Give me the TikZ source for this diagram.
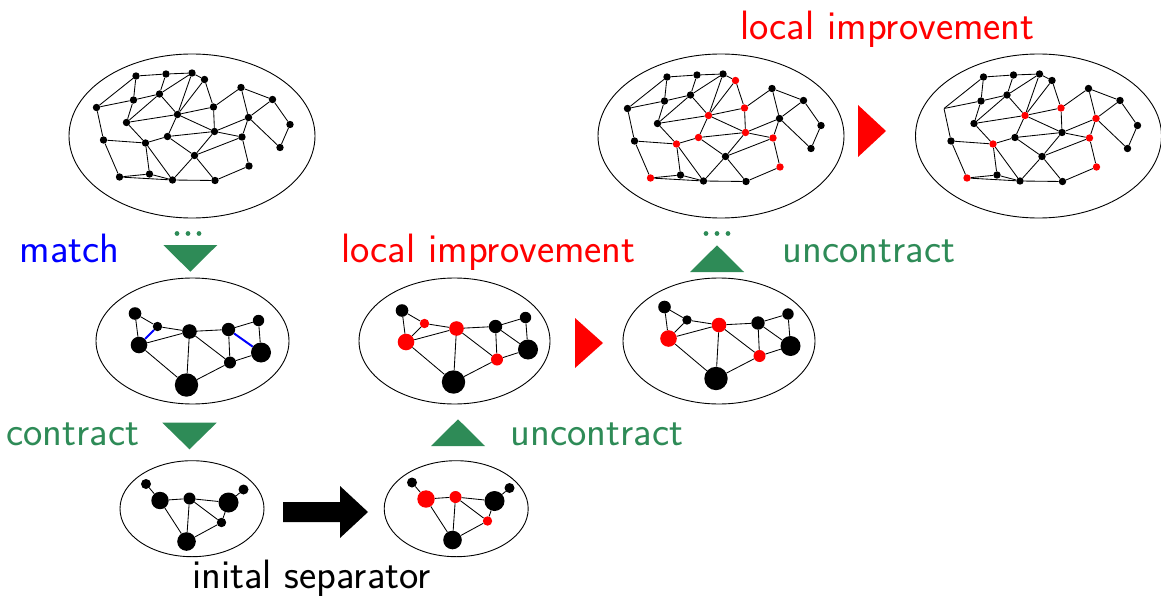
\documentclass[tikz,border=0pt]{standalone}
\usetikzlibrary{shapes.geometric}

\definecolor{sgreen}{RGB}{46,139,87}

% big graph: n / x / y / style after projection / style after refinement
\newcommand\bigverts{%
  1/136/76/blk/blk, 2/166/74/blk/blk, 3/192/73/blk/blk, 4/204.5/79.5/hot/blk,
  5/96.5/107.5/blk/gone, 6/133.5/100/blk/blk, 7/159.5/94/blk/blk,
  8/177.5/114.5/hot/hot, 9/213.5/107/hot/hot, 10/241/87.5/blk/blk,
  11/272.5/99.5/blk/blk, 12/290/124.5/blk/blk, 13/126.5/122.5/blk/blk,
  14/248.5/117.5/blk/hot, 15/103.5/140/blk/blk, 16/145.5/143/hot/hot,
  17/167.5/136.5/hot/blk, 18/214.5/131.5/hot/blk, 19/242/137/hot/hot,
  20/280/147.5/blk/blk, 21/194.5/155.5/blk/blk, 22/249/166/hot/hot,
  23/119.5/177/hot/hot, 24/149.5/174/blk/blk, 25/172.5/180/blk/blk,
  26/215/180.5/blk/blk}
\newcommand\bigedges{%
  1/2, 2/3, 3/4, 1/5, 1/6, 2/7, 3/7, 3/8, 4/8, 4/9, 5/6, 6/7, 6/13, 7/13,
  7/8, 5/15, 13/8, 8/9, 8/17, 8/18, 9/18, 9/10, 10/14, 10/11, 11/14, 11/12,
  12/20, 14/20, 14/18, 14/19, 13/16, 15/16, 16/17, 17/18, 18/19, 18/21,
  19/21, 17/21, 19/22, 22/26, 21/25, 21/26, 15/23, 16/24, 16/25, 23/24,
  23/25, 24/25, 25/26}

\begin{document}
\begin{tikzpicture}[
    x=1pt, y=-1pt,
    blob/.style = {
        ellipse,
        draw,
        line width=0.9pt,
        inner sep=0pt
    },
    dot/.style = {
        circle,
        fill=black,
        inner sep=0pt,
        minimum size=7.4pt
    },
    blk/.style  = {fill=black},
    hot/.style  = {fill=red},
    gone/.style = {fill=none, minimum size=0pt},
    link/.style = {line width=0.85pt},
    matched/.style = {line width=2pt, blue},
    lbl/.style = {anchor=base, font=\sffamily\fontsize{41}{46}\selectfont}
]
\useasboundingbox (0,0) rectangle (1161,596);

%% ── Ellipses ───────────────────────────────────────────────────────────────

\node[blob, minimum width=246pt, minimum height=164pt] (fine)  at (192,136)   {};
\node[blob, minimum width=246pt, minimum height=164pt] (proj)  at (721,136)   {};
\node[blob, minimum width=246pt, minimum height=164pt] (final) at (1038.5,136) {};

\node[blob, minimum width=193pt, minimum height=126pt] (coarse)  at (192.5,341) {};
\node[blob, minimum width=191pt, minimum height=126pt] (cproj)   at (454.5,341) {};
\node[blob, minimum width=192pt, minimum height=126pt] (cimpr)   at (719,341)   {};

\node[blob, minimum width=144pt, minimum height=96pt] (tiny)  at (192,508.7)   {};
\node[blob, minimum width=144pt, minimum height=96pt] (tsep)  at (456.2,508.7) {};

%% ── Big graphs ─────────────────────────────────────────────────────────────

\foreach \n/\x/\y/\cb/\cc in \bigverts {
    \node[dot]      (g\n) at (\x,\y)           {};
    \node[dot, \cb] (p\n) at (\x+531,\y+1)     {};
    \node[dot, \cc] (r\n) at (\x+847.5,\y+1)   {};
}
\foreach \u/\v in \bigedges {
    \draw[link] (g\u) -- (g\v);
    \draw[link] (p\u) -- (p\v);
    \draw[link] (r\u) -- (r\v);
}

%% ── Middle graphs ──────────────────────────────────────────────────────────

\foreach \n/\x/\y/\r/\cb/\cc in {
    1/135/313.5/6.3/blk/blk, 2/157.5/326.5/4.7/hot/blk,
    3/139/345/8.3/hot/hot,   4/189.5/331.5/7.3/hot/hot,
    5/228.5/329.5/6.7/blk/blk, 6/258.5/320.5/5.7/blk/blk,
    7/261/352.5/10/blk/blk,  8/230/362.5/6/hot/hot,
    9/186.5/385/11.7/blk/blk} {
    \node[dot, minimum size=2*\r pt]      (m\n) at (\x,\y)            {};
    \node[dot, minimum size=2*\r pt, \cb] (n\n) at (\x+267,\y-3)      {};
    \node[dot, minimum size=2*\r pt, \cc] (q\n) at (\x+529.5,\y-6.5)  {};
}
\foreach \u/\v/\s in {1/2/link, 1/3/link, 2/3/matched, 2/4/link, 3/4/link,
    3/9/link, 4/9/link, 4/5/link, 4/8/link, 5/8/link, 5/6/link,
    5/7/matched, 6/7/link, 7/8/link, 8/9/link} {
    \draw[\s]   (m\u) -- (m\v);
    \draw[link] (n\u) -- (n\v);
    \draw[link] (q\u) -- (q\v);
}

%% ── Coarsest graphs ────────────────────────────────────────────────────────

\foreach \n/\x/\y/\r/\cb in {
    1/146/484/5/blk, 2/160/500.5/8.7/hot, 3/189.5/498.5/6/hot,
    4/228.5/502.5/10/blk, 5/243.5/489.5/5/blk, 6/221.5/522.5/4.7/hot,
    7/186.5/541.5/9.3/blk} {
    \node[dot, minimum size=2*\r pt]      (c\n) at (\x,\y)          {};
    \node[dot, minimum size=2*\r pt, \cb] (s\n) at (\x+266,\y-1.5)  {};
}
\foreach \u/\v in {1/2, 2/3, 2/7, 3/7, 3/4, 3/6, 4/5, 4/6, 6/7} {
    \draw[link] (c\u) -- (c\v);
    \draw[link] (s\u) -- (s\v);
}

%% ── Arrows ─────────────────────────────────────────────────────────────────

% down: coarsening
\fill[sgreen] (163.3,245) -- (217.3,245) -- (190.3,271.7) -- cycle;
\fill[sgreen] (162.3,422.7) -- (216.7,422.7) -- (189.5,449.3) -- cycle;
\foreach \x in {177,188,199} \fill[sgreen] (\x,233.5) circle (2.4pt);

% up: uncoarsening
\fill[sgreen] (431,446) -- (485,446) -- (458,419.3) -- cycle;
\fill[sgreen] (690,272) -- (744,272) -- (717,245.3) -- cycle;
\foreach \x in {706,717,728} \fill[sgreen] (\x,233.5) circle (2.4pt);

% right: local improvement
\fill[red] (575,318) -- (575,368) -- (603,343) -- cycle;
\fill[red] (858,105) -- (858,157) -- (886,131) -- cycle;

% initial partitioning
\fill[black] (283,502) -- (340,502) -- (340,486) -- (368,512)
    -- (340,538) -- (340,522) -- (283,522) -- cycle;

%% ── Labels ─────────────────────────────────────────────────────────────────

\node[lbl, blue]   (lmatch) at (69.5,262)  {match};
\node[lbl, red]    (limp1)  at (488.5,262) {local improvement};
\node[lbl, sgreen] (lunc1)  at (869,262)   {uncontract};
\node[lbl, red]    (limp2)  at (887.5,40)  {local improvement};
\node[lbl, sgreen] (lcon)   at (73,445)    {contract};
\node[lbl, sgreen] (lunc2)  at (597,445)   {uncontract};
\node[lbl, black]  (lsep)   at (311.5,588) {inital separator};

\end{tikzpicture}
\end{document}
